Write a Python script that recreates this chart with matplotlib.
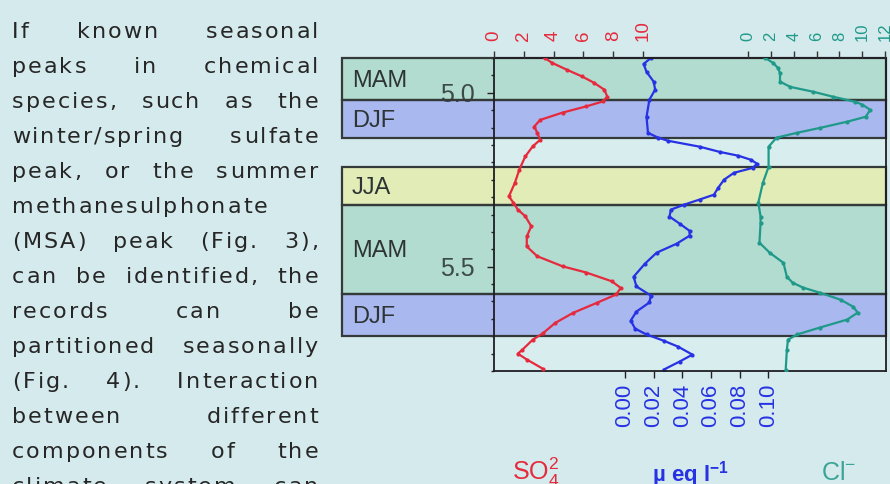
import numpy as np
import matplotlib
matplotlib.use('Agg')
import matplotlib.pyplot as plt
import matplotlib.transforms as mtransforms
from matplotlib.patches import Rectangle
from matplotlib.ticker import FixedLocator, MultipleLocator, FormatStrFormatter
from matplotlib import font_manager
from matplotlib.ft2font import FT2Font

# --- paragraph next to the figure ---
body_lines = [
    'If known seasonal',
    'peaks in chemical',
    'species, such as the',
    'winter/spring sulfate',
    'peak, or the summer',
    'methanesulphonate',
    '(MSA) peak (Fig. 3),',
    'can be identified, the',
    'records can be',
    'partitioned seasonally',
    '(Fig. 4). Interaction',
    'between different',
    'components of the',
    'climate system can',
]
ragged = ['methanesulphonate']

# --- seasons (depth in m) ---
season_names = ['MAM', 'DJF', 'JJA', 'MAM', 'DJF']
season_top = [4.900, 5.022, 5.213, 5.322, 5.578]
season_bottom = [5.022, 5.129, 5.322, 5.578, 5.700]

# --- records ---
so4_depth = [4.900, 4.914, 4.934, 4.953, 4.971, 4.991, 5.011, 5.025, 5.039, 5.057,
             5.078, 5.097, 5.115, 5.135, 5.154, 5.183, 5.221, 5.259, 5.298, 5.316,
             5.336, 5.355, 5.384, 5.413, 5.442, 5.470, 5.499, 5.517, 5.542, 5.561,
             5.580, 5.604, 5.633, 5.662, 5.691, 5.710, 5.739, 5.750, 5.767, 5.794]
so4 = [3.4, 3.9, 4.9, 5.9, 6.7, 7.4, 7.6, 7.3, 6.2, 4.6,
       3.1, 2.7, 2.9, 3.1, 2.6, 2.1, 1.7, 1.4, 1.0, 1.3,
       1.6, 2.1, 2.5, 2.2, 2.2, 2.9, 4.6, 6.2, 7.9, 8.5,
       8.2, 6.9, 5.3, 4.1, 3.3, 2.6, 1.9, 1.6, 2.2, 3.3]

msa_depth = [4.900, 4.917, 4.940, 4.968, 4.991, 5.020, 5.069, 5.115, 5.129, 5.138,
             5.155, 5.170, 5.181, 5.193, 5.204, 5.216, 5.230, 5.250, 5.273, 5.293,
             5.307, 5.322, 5.336, 5.356, 5.376, 5.397, 5.411, 5.434, 5.460, 5.491,
             5.529, 5.557, 5.583, 5.603, 5.629, 5.655, 5.678, 5.695, 5.713, 5.730,
             5.753, 5.773, 5.796]
msa = [0.018, 0.013, 0.015, 0.020, 0.021, 0.017, 0.015, 0.016, 0.023, 0.030,
       0.052, 0.066, 0.079, 0.088, 0.092, 0.089, 0.076, 0.069, 0.065, 0.062,
       0.052, 0.041, 0.032, 0.031, 0.038, 0.045, 0.045, 0.036, 0.022, 0.014,
       0.006, 0.008, 0.018, 0.017, 0.008, 0.004, 0.007, 0.015, 0.027, 0.037,
       0.047, 0.038, 0.027]

cl_depth = [4.900, 4.914, 4.928, 4.943, 4.968, 4.983, 4.997, 5.011, 5.026, 5.034,
            5.049, 5.069, 5.083, 5.101, 5.115, 5.129, 5.155, 5.213, 5.259, 5.316,
            5.356, 5.374, 5.431, 5.460, 5.489, 5.529, 5.546, 5.560, 5.575, 5.595,
            5.615, 5.632, 5.652, 5.675, 5.695, 5.710, 5.739, 5.796]
cl = [1.5, 2.2, 2.6, 2.8, 2.8, 3.7, 5.7, 7.4, 9.4, 10.0,
      10.7, 10.3, 8.7, 6.3, 4.3, 2.5, 1.8, 1.8, 1.3, 0.9,
      1.1, 1.1, 1.0, 1.9, 3.1, 3.4, 3.9, 4.8, 6.3, 8.1,
      9.2, 9.6, 8.7, 6.3, 4.3, 3.5, 3.4, 3.3]

so4_ticks = [0, 2, 4, 6, 8, 10]
cl_ticks = [0, 2, 4, 6, 8, 10, 12]
msa_ticks = [0.00, 0.02, 0.04, 0.06, 0.08, 0.10]

# colours
bg = '#d5eaec'
txt = '#262626'
red = '#e62a3e'
blue = '#2632e4'
teal = '#1f9a8a'
season_colors = {'MAM': '#b2dccf', 'DJF': '#a9b8ee', 'JJA': '#e1ecb7'}
edge = '#343a3a'

plt.rcParams['font.family'] = 'Liberation Sans'
plt.rcParams['mathtext.default'] = 'regular'

W, H = 890, 484
fig = plt.figure(figsize=(W / 100, H / 100), dpi=100)
fig.patch.set_facecolor(bg)

# justified paragraph, one glyph at a time so the letter spacing can be widened
body_pt = 16
track = 2.0
face = FT2Font(font_manager.findfont('DejaVu Sans'))
face.set_size(body_pt, 100)


def adv(ch):
    return face.load_char(ord(ch)).linearHoriAdvance / 65536


left, right = 12, 318
for i, line in enumerate(body_lines):
    words = line.split()
    widths = [sum(adv(c) for c in w) + track * (len(w) - 1) for w in words]
    if line in ragged or len(words) == 1:
        gap = adv(' ') + 2 * track
    else:
        gap = (right - left - sum(widths)) / (len(words) - 1)
    base = 38 + 35 * i
    x = left
    for w, ww in zip(words, widths):
        xc = x
        for c in w:
            fig.text(xc / W, 1 - base / H, c, fontsize=body_pt, color=txt,
                     family='DejaVu Sans', ha='left', va='baseline')
            xc += adv(c) + track
        x += ww + gap

# --- chart ---
ax = fig.add_axes([494 / W, 1 - 371 / H, 392 / W, 313 / H])
ax.set_facecolor('#d8eded')
ax.set_ylim(5.8, 4.9)
ax.set_xlim(-0.0913, 0.1819)

trans = mtransforms.blended_transform_factory(ax.transAxes, ax.transData)
band_x0 = -0.388
for name, top, bot in zip(season_names, season_top, season_bottom):
    ax.add_patch(Rectangle((band_x0, top), 1 - band_x0, bot - top, transform=trans,
                           facecolor=season_colors[name], edgecolor='none',
                           zorder=1, clip_on=False))
    ax.add_patch(Rectangle((band_x0, top), 1 - band_x0, bot - top, transform=trans,
                           facecolor='none', edgecolor=edge, lw=1.6,
                           zorder=1.6, clip_on=False))
    ax.text(-0.362, (top + bot) / 2 + 0.006, name, transform=trans, fontsize=17,
            color='#2e3434', ha='left', va='center', zorder=3)

ax.plot(msa, msa_depth, color=blue, lw=1.6, marker='o', ms=2, zorder=2)

ax.yaxis.set_major_locator(FixedLocator([5.0, 5.5]))
ax.yaxis.set_major_formatter(FormatStrFormatter('%.1f'))
ax.yaxis.set_minor_locator(MultipleLocator(0.05))
ax.tick_params(axis='y', which='major', direction='out', length=5, width=1,
               pad=9, labelsize=18, labelcolor='#3d4b48', color='#222')
ax.tick_params(axis='y', which='minor', direction='out', length=2.5, width=1,
               color='#222')
ax.set_xticks(msa_ticks)
ax.set_xticklabels(['%.2f' % v for v in msa_ticks])
ax.tick_params(axis='x', direction='out', length=5, width=1, pad=4,
               labelsize=16, labelcolor=blue, labelrotation=90, color='#222')
for s in ax.spines.values():
    s.set_color('#1e1e24')
    s.set_linewidth(1.3)

ax_so4 = ax.twiny()
ax_so4.set_xlim(0, 26.3)
ax_so4.plot(so4, so4_depth, color=red, lw=1.6, marker='o', ms=2)
ax_so4.set_xticks(so4_ticks)
ax_so4.tick_params(axis='x', direction='out', length=5, width=1, pad=7,
                   labelsize=13.5, labelcolor=red, labelrotation=90, color='#333')

ax_cl = ax.twiny()
ax_cl.set_xlim(-22.24, 12.08)
ax_cl.plot(cl, cl_depth, color=teal, lw=1.6, marker='o', ms=2)
ax_cl.set_xticks(cl_ticks)
ax_cl.tick_params(axis='x', direction='out', length=5, width=1, pad=7,
                  labelsize=12, labelcolor=teal, labelrotation=90, color='#333')

for a in (ax_so4, ax_cl):
    for s in a.spines.values():
        s.set_visible(False)

# units under the axis
fig.text(512 / W, 1 - 480 / H, r'SO$_4^{2}$', fontsize=18, color=red,
         ha='left', va='baseline')
fig.text(652 / W, 1 - 482 / H, r'µ eq l$^{-1}$', fontsize=16, color=blue,
         fontweight='bold', ha='left', va='baseline')
fig.text(821 / W, 1 - 480 / H, r'Cl$^{-}$', fontsize=18, color='#3aa496',
         ha='left', va='baseline')

fig.savefig('out.png', dpi=100, facecolor=bg)
